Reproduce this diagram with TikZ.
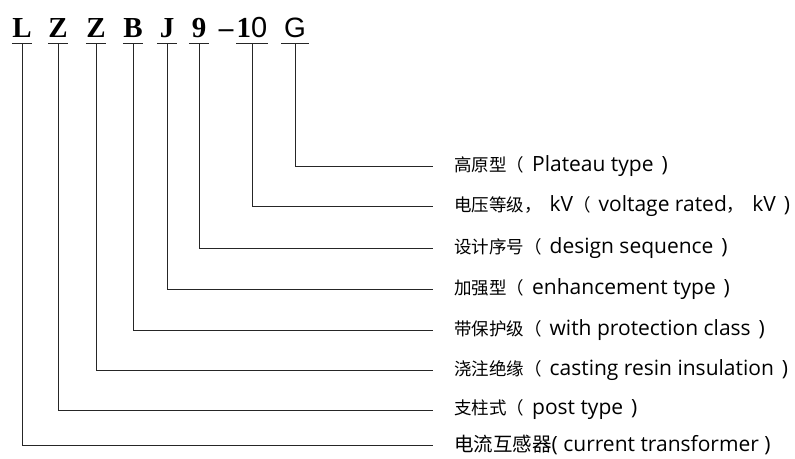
\documentclass[tikz,border=0pt]{standalone}
\usepackage{fontspec}
\newfontfamily\cjk{Noto Sans CJK SC}
\newfontfamily\latn{Open Sans}
\newfontfamily\codeserif{Liberation Serif}
\newfontfamily\codesans{Liberation Sans}
\newcommand\eng[1]{{\latn\fontsize{21}{21}\selectfont #1}}
\newcommand\pgap{\hspace{2.5pt}}
\usetikzlibrary{positioning}

\begin{document}
\begin{tikzpicture}[
    x=1pt, y=-1pt,
    code/.style={anchor=south, inner xsep=0pt, inner ysep=5pt, text depth=0pt, minimum width=20pt, font=\codeserif\bfseries\fontsize{29}{29}\selectfont},
    desc/.style={anchor=west, inner sep=0pt, font=\cjk\fontsize{17.5}{17.5}\selectfont},
    line/.style={line width=0.9pt, black!85}
]
    \useasboundingbox (0,0) rectangle (795,458);

    % Codigo
    \node[code] (cL) at (22,43) {L};
    \node[code] (cZa) at (58,43) {Z};
    \node[code] (cZb) at (96,43) {Z};
    \node[code] (cB) at (133,43) {B};
    \node[code] (cJ) at (167,43) {J};
    \node[code] (c9) at (199,43) {9};
    \node[code, minimum width=0pt] (cdash) at (226,43) {–};
    \node[code, minimum width=30pt] (c10) at (252,43) {1{\codesans\mdseries 0}};
    \node[code, minimum width=27pt, font=\codesans\fontsize{28}{28}\selectfont] (cG) at (295,43) {G};

    % Significados
    \node[desc] (dG) at (454,166) {高原型（\pgap\eng{ Plateau type }\pgap\eng{)}};
    \node[desc] (d10) at (454,206) {电压等级，\pgap\eng{ kV}（\pgap\eng{ voltage rated}，\pgap\eng{ kV }\pgap\eng{)}};
    \node[desc] (d9) at (454,248) {设计序号（\pgap\eng{ design sequence }\pgap\eng{)}};
    \node[desc] (dJ) at (454,289) {加强型（\pgap\eng{ enhancement type }\pgap\eng{)}};
    \node[desc] (dB) at (454,330) {带保护级（\pgap\eng{ with protection class }\pgap\eng{)}};
    \node[desc] (dZb) at (454,370) {浇注绝缘（\pgap\eng{ casting resin insulation }\pgap\eng{)}};
    \node[desc] (dZa) at (454,410) {支柱式（\pgap\eng{ post type }\pgap\eng{)}};
    \node[desc, font=\cjk\fontsize{19.5}{19.5}\selectfont] (dL) at (454,445) {电流互感器\eng{( current transformer )}};

    % Lineas
    \draw[line] (cG.south west) -- (cG.south east) (cG.south) |- ([xshift=-21pt]dG.west);
    \draw[line] (c10.south west) -- (c10.south east) (c10.south) |- ([xshift=-21pt]d10.west);
    \draw[line] (c9.south west) -- (c9.south east) (c9.south) |- ([xshift=-21pt]d9.west);
    \draw[line] (cJ.south west) -- (cJ.south east) (cJ.south) |- ([xshift=-21pt]dJ.west);
    \draw[line] (cB.south west) -- (cB.south east) (cB.south) |- ([xshift=-21pt]dB.west);
    \draw[line] (cZb.south west) -- (cZb.south east) (cZb.south) |- ([xshift=-21pt]dZb.west);
    \draw[line] (cZa.south west) -- (cZa.south east) (cZa.south) |- ([xshift=-21pt]dZa.west);
    \draw[line] (cL.south west) -- (cL.south east) (cL.south) |- ([xshift=-21pt]dL.west);
\end{tikzpicture}
\end{document}
